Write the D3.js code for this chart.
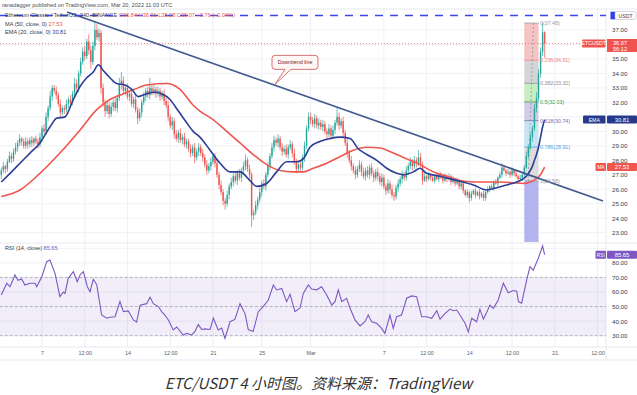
<!DOCTYPE html>
<html><head><meta charset="utf-8">
<script src="https://cdn.jsdelivr.net/npm/d3@7"></script>
<style>
html,body{margin:0;padding:0;background:#fff;}
svg{display:block;}
text{font-family:"Liberation Sans",Arial,sans-serif;}
</style></head><body>
<svg id="c" width="637" height="395"></svg>
<script>
// ---------------- DATA ----------------
const startTime = Date.UTC(2022,1,3,16);   // first 4h candle
const firstOpen = 27.0;
const closes = [
27.3,27.6,27.4,27.9,28.3,28.1,28.6,
28.9,29.2,29.5,29.3,29.0,29.3,29.1,29.4,29.2,29.5,29.3,29.1,
29.6,30.2,30.0,31.0,31.6,32.4,33.0,32.8,
32.5,31.9,31.3,31.6,31.5,
31.9,32.2,32.0,32.6,33.3,33.0,34.0,34.8,35.5,35.2,36.2,35.6,34.8,35.9,37.0,36.5,36.8,
33.0,32.0,31.4,31.8,31.2,
31.7,32.0,31.6,32.3,33.2,33.5,
32.8,33.0,32.4,32.6,31.9,32.2,31.5,30.9,31.3,
32.0,32.4,32.8,32.5,33.0,32.7,32.9,32.6,32.8,32.4,32.6,32.1,
31.8,31.0,30.4,30.7,29.8,29.5,29.9,
29.4,29.6,29.1,29.3,28.8,28.5,28.9,28.2,28.6,28.9,28.5,
28.2,27.7,27.3,27.6,27.9,28.3,27.8,
27.0,26.3,25.8,25.2,25.0,25.6,26.2,
26.5,26.9,26.6,27.1,26.8,27.3,27.6,28.0,27.4,27.0,
24.2,24.4,24.9,25.3,
25.8,26.4,26.2,27.0,27.6,28.3,28.9,29.4,
29.2,29.5,28.9,28.6,28.8,28.4,28.9,29.1,28.5,27.9,
27.4,27.7,27.5,28.2,29.0,30.2,31.0,
30.8,30.5,30.9,30.4,30.6,30.3,30.5,30.0,29.8,30.2,29.7,
30.1,30.6,31.0,30.4,30.7,29.9,29.2,28.5,28.0,27.6,
27.3,27.0,27.4,27.7,27.2,26.9,27.3,27.0,27.5,27.1,26.8,27.2,26.9,26.5,26.8,26.2,25.9,26.4,26.0,25.6,25.5,26.1,26.4,
26.7,27.0,26.8,27.3,27.6,27.9,27.6,28.0,27.8,28.2,27.7,26.6,
26.9,26.7,27.0,26.8,26.6,26.9,26.7,27.0,26.8,26.6,26.9,26.7,26.9,26.5,26.7,26.4,26.6,26.2,26.4,
25.9,25.6,25.8,25.4,25.7,25.9,25.6,25.8,25.5,25.7,25.4,25.8,
26.0,26.2,26.1,26.5,26.4,26.8,27.0,27.5,27.3,
27.1,27.2,27.0,27.3,27.1,26.9,26.7,26.8,27.0,
27.5,28.3,28.9,29.6,30.2,31.6,32.3,34.0,35.5,36.84,36.07
];
const wickUp = [
0.2,0.3,0.1,0.2,0.3,0.2,0.2,0.3,0.2,0.3,0.1,0.2,0.3,0.2,0.2,0.3,0.1,0.2,0.2,0.3,
0.2,0.3,0.3,0.2,0.4,0.2,0.2,0.3,0.2,0.3,0.2,0.2,0.3,0.2,0.3,0.2,0.4,0.3,0.2,0.3,
0.3,0.4,0.2,0.5,0.3,0.3,0.6,0.4,0.3,0.2,0.3,0.2,0.3,0.2,0.3,0.2,0.3,0.2,0.5,0.6,
0.3,0.2,0.3,0.2,0.3,0.2,0.3,0.2,0.3,0.2,0.3,0.2,0.3,0.7,0.2,0.3,0.2,0.3,0.2,0.2,
0.3,0.2,0.3,0.2,0.3,0.2,0.3,0.2,0.3,0.2,0.3,0.2,0.2,0.3,0.2,0.3,0.2,0.3,0.2,0.3,
0.2,0.3,0.2,0.3,0.2,0.2,0.3,0.2,0.3,0.2,0.2,0.3,0.2,0.3,0.2,0.3,0.2,0.3,0.2,0.3,
0.4,0.2,0.3,0.2,0.2,0.3,0.2,0.3,0.2,0.3,0.2,0.3,0.2,0.3,0.3,0.2,0.3,0.2,0.3,0.2,
0.3,0.2,0.3,0.2,0.3,0.2,0.2,0.3,0.2,0.3,0.2,0.3,0.3,0.2,0.3,0.2,0.3,0.2,0.3,0.2,
0.2,0.3,0.2,0.3,0.2,0.6,0.3,0.2,0.3,0.2,0.3,0.2,0.3,0.2,0.3,0.2,0.3,0.2,0.3,0.2,
0.3,0.2,0.3,0.2,0.2,0.3,0.2,0.3,0.2,0.2,0.3,0.2,0.3,0.2,0.2,0.3,0.2,0.3,0.2,0.3,
0.2,0.3,0.2,0.3,0.2,0.5,0.3,0.2,0.2,0.1,0.2,0.1,0.2,0.1,0.2,0.1,0.2,0.1,0.2,0.1,
0.2,0.1,0.2,0.1,0.2,0.1,0.2,0.2,0.1,0.2,0.1,0.2,0.1,0.2,0.1,0.2,0.1,0.2,0.1,0.2,
0.1,0.2,0.1,0.2,0.1,0.2,0.3,0.2,0.1,0.2,0.1,0.2,0.1,0.2,0.1,0.2,0.1,0.2,0.3,0.2,
0.3,0.2,0.3,0.4,0.3,0.3,0.64,0.07
];
const wickDn = [
0.3,0.2,0.3,0.2,0.1,0.3,0.2,0.2,0.3,0.2,0.3,0.2,0.2,0.3,0.2,0.3,0.2,0.2,0.3,0.2,
0.3,0.2,0.2,0.3,0.2,0.3,0.2,0.3,0.2,0.4,0.2,0.3,0.2,0.3,0.2,0.2,0.3,0.2,0.3,0.2,
0.2,0.3,0.2,0.3,0.5,0.2,0.3,0.2,0.3,0.4,0.3,0.4,0.2,0.3,0.2,0.3,0.2,0.3,0.2,0.3,
0.2,0.3,0.2,0.3,0.2,0.3,0.2,0.4,0.2,0.3,0.2,0.3,0.2,0.3,0.2,0.2,0.3,0.2,0.3,0.2,
0.3,0.2,0.3,0.2,0.3,0.3,0.2,0.3,0.2,0.3,0.2,0.3,0.2,0.3,0.2,0.4,0.2,0.3,0.2,0.3,
0.2,0.3,0.2,0.3,0.2,0.3,0.2,0.3,0.2,0.3,0.4,0.2,0.3,0.2,0.3,0.2,0.3,0.2,0.3,0.2,
0.3,0.2,0.3,0.8,0.3,0.2,0.3,0.2,0.3,0.2,0.3,0.2,0.3,0.2,0.3,0.2,0.3,0.2,0.3,0.2,
0.2,0.3,0.2,0.3,0.2,0.3,0.2,0.3,0.2,0.3,0.2,0.2,0.3,0.2,0.3,0.2,0.3,0.2,0.3,0.2,
0.3,0.2,0.3,0.2,0.3,0.2,0.3,0.2,0.3,0.2,0.3,0.2,0.3,0.2,0.3,0.2,0.2,0.3,0.2,0.3,
0.2,0.3,0.2,0.3,0.2,0.3,0.2,0.3,0.2,0.3,0.2,0.3,0.2,0.3,0.2,0.3,0.2,0.3,0.2,0.2,
0.3,0.2,0.3,0.2,0.3,0.2,0.2,0.3,0.1,0.2,0.1,0.2,0.1,0.2,0.1,0.2,0.1,0.2,0.1,0.2,
0.1,0.2,0.1,0.2,0.1,0.2,0.2,0.2,0.1,0.2,0.3,0.2,0.1,0.2,0.1,0.2,0.1,0.2,0.2,0.1,
0.2,0.1,0.2,0.1,0.2,0.1,0.2,0.1,0.2,0.1,0.2,0.1,0.2,0.1,0.2,0.1,0.22,0.2,0.1,0.2,
0.2,0.3,0.2,0.3,0.2,0.3,0.3,0.99
];
// EMA 20 (sampled at candle index)
const emaIdx = [0,4.3,9.2,14.1,19,23.9,27.2,31.3,35.4,38.7,42,45.2,47.7,50.1,53.4,56.7,60.8,64.1,67.3,71.4,75.5,78.8,82.9,87,91.1,94.3,97.6,102.6,107.5,112.4,117.3,122.2,125.5,130.4,135.3,140.2,145.2,148.4,151.7,156.6,161.5,166.4,171.4,175.4,179.6,184.5,189.4,194.3,197.5,202.5,205.7,209,215.6,223.8,232,238.5,243.4,248.4,253.3,258,260,261,262,263,264,265,266,267];
const emaVal = [26.5,27.1,27.8,28.5,29.2,30.3,30.9,31.0,32.2,33.1,33.7,34.1,34.6,34.2,33.7,33.3,33.2,32.9,32.4,32.6,32.7,32.6,32.2,31.4,30.6,30.0,29.6,28.7,27.8,27.2,27.2,26.6,26.2,26.4,27.2,27.9,27.9,28.1,28.9,29.3,29.5,29.6,29.5,28.8,28.4,28.0,27.45,27.1,27.0,27.2,27.45,27.1,26.9,26.6,26.3,25.95,26.1,26.3,26.5,26.9,27.3,27.6,28.0,28.4,28.9,29.6,30.3,30.81];
// MA 50
const maIdx = [0,9.2,19,28.8,38.7,46.9,53.4,60,65.4,71.4,81.3,87.8,94.3,97.6,104.2,110.8,117.3,123.8,130.4,137,143.5,148.4,153.3,159.9,166.4,173,179.6,186.1,192.6,199.2,205.7,212.3,218.9,225.4,232,238.5,245,251.6,256.5,261.4,264.7,267];
const maVal = [25.5,25.95,27.1,28.5,30.1,31.5,32.2,32.6,32.9,33.2,33.3,32.9,31.8,31.4,30.8,30.0,29.2,28.4,27.7,27.3,27.2,27.2,27.45,27.8,28.25,28.7,28.9,28.85,28.5,28.1,27.7,27.2,26.9,26.6,26.5,26.5,26.5,26.45,26.4,26.6,26.95,27.53];
// RSI 14
const rsiIdx = [0,2.7,4.3,6.7,8.2,10,11.6,14.1,16.6,17.4,19.9,22.3,23.9,26.4,28.8,30.5,31.3,32.9,35.4,37.3,38.7,40.3,42.3,43.6,45.2,46.9,49.3,51.8,53.4,55.9,58.3,60,62.4,64.9,66.5,68.2,71.4,73.1,74.7,77.2,78.8,80.4,82.1,84.5,86.2,89.4,91.1,93.6,95.2,96.8,98.5,100.1,102.6,104.2,106.6,108.3,109.9,112.4,114.8,117.3,119.8,121.4,123.8,126.3,128.7,131.2,133.7,135.3,137.8,140.2,141.9,144.3,146.8,148.4,150.9,152.5,155,157.4,159.9,162.4,164,165.6,167.3,169.7,171.4,173.8,176.3,178.7,180.3,182,184.5,186.9,188.5,191,192.6,194.3,196.7,199.2,201.7,204.1,206.6,209,211.5,214,215.6,218,220.5,222.1,223.8,225.4,227.9,229.5,231.2,233.6,235.2,236.9,238.5,240.1,241.8,244.2,246.7,249.1,251.6,253.3,254.1,255.7,258.2,259.8,261.4,263.9,266,267];
const rsiVal = [58,66,63.6,71.7,68,69,64.8,66,66,63.6,70.5,80.8,82,72.8,56.8,60,59,69.4,74,67,71.7,74,63.6,60.2,68.7,65,44.2,42,42.7,43,53.4,46.5,47,40.8,39.4,51,52,56.4,52,50,46.5,44.2,40.8,34,36,30.5,31.6,30.5,33,37.6,34.3,34.7,34.3,42,34,35.2,28.2,39.6,41.2,52,45,34,33,46.5,50,54.5,64.8,61.4,62.4,53.4,58.4,46.5,49,59,64.8,62,61.5,63.6,58,51,53.4,61.4,53.4,55.7,48.8,40.8,36.7,39.6,44.2,39.6,38.5,35,31.6,44.2,35,43,44.2,55.7,57.3,56.8,43,43,41.9,47.2,41.4,45.2,48.3,47.1,47.6,44.2,38.5,32.7,42,39.6,48.3,41.4,46,51,48.8,54.5,66,59.5,61,60.5,53.4,52.3,68.3,77.4,75,83.2,91.6,85.65];
// Annotations
const trendIdx = [32.3, 295.7];        // downtrend line (candle index)
const trendPrice = [38.24, 25.19];
const alertLevel = 38.0;               // blue dashed line
const lastPrice = 36.07;
const maLast = 27.53, emaLast = 30.81, rsiLast = 85.65;
const fibIdx = [257, 264];
const fibRatios = ["0","0.236","0.382","0.5","0.618","0.786","1"];
const fibPrices = [37.48,34.91,33.32,32.03,30.74,28.91,26.58];
const calloutIdx = 134.5;
const priceTicks = [23,24,25,26,27,28,29,30,31,32,33,34,35,36,37];
const rsiTicks = [30,40,50,60,70,80,90];
const tickDates = ["2022-02-07T00:00Z","2022-02-10T12:00Z","2022-02-14T00:00Z","2022-02-17T12:00Z","2022-02-21T00:00Z","2022-02-25T00:00Z","2022-03-01T00:00Z","2022-03-07T00:00Z","2022-03-10T12:00Z","2022-03-14T00:00Z","2022-03-17T12:00Z","2022-03-21T00:00Z","2022-03-24T12:00Z"];
const tickLabels = ["7","12:00","14","12:00","21","25","Mar","7","12:00","14","12:00","21","12:00"];

// ---------------- CHART ----------------
const H4 = 4*3600*1000;
const tOf = i => new Date(startTime + i*H4);
const svg = d3.select("#c");
const PR = 606, PT = 9, PB = 243, RT = 243, RB = 347;
const x = d3.scaleUtc().domain([new Date(Date.UTC(2022,1,7)), new Date(Date.UTC(2022,2,21))]).range([42,554.8]);
const y = d3.scaleLinear().domain([23,37]).range([232.7,30]);
const yR = d3.scaleLinear().domain([30,90]).range([335.7,248.3]);
const xi = i => x(tOf(i));

const candles = closes.map((c,i)=>{const o = i===0?firstOpen:closes[i-1];
  return {i,o,c,h:Math.max(o,c)+wickUp[i],l:Math.min(o,c)-wickDn[i]};});

const defs = svg.append("defs");
defs.append("clipPath").attr("id","cp").append("rect").attr("x",0).attr("y",PT).attr("width",PR).attr("height",PB-PT);
defs.append("clipPath").attr("id","cr").append("rect").attr("x",0).attr("y",RT).attr("width",PR).attr("height",RB-RT);

const grid = "#eff1f6";
const tds = tickDates.map(d=>new Date(d));
svg.append("g").selectAll("line").data(tds).join("line")
  .attr("x1",d=>x(d)).attr("x2",d=>x(d)).attr("y1",PT).attr("y2",RB).attr("stroke",grid).attr("stroke-width",1);
svg.append("g").selectAll("line").data(priceTicks).join("line")
  .attr("x1",0).attr("x2",PR).attr("y1",d=>y(d)).attr("y2",d=>y(d)).attr("stroke",grid);
svg.append("g").selectAll("line").data(rsiTicks).join("line")
  .attr("x1",0).attr("x2",PR).attr("y1",d=>yR(d)).attr("y2",d=>yR(d)).attr("stroke",grid);

const bc = "#e0e3eb";
[[0,PT,637,PT],[0,PB,637,PB],[0,RB,637,RB],[0,360,637,360],[PR,PT,PR,360]].forEach(a=>
  svg.append("line").attr("x1",a[0]).attr("y1",a[1]).attr("x2",a[2]).attr("y2",a[3]).attr("stroke",bc).attr("stroke-width",0.8));

const P = svg.append("g").attr("clip-path","url(#cp)");

// fib
const fx0 = xi(fibIdx[0]), fx1 = xi(fibIdx[1]);
const fibFills = ["#f4c3c3","#d5d5d8","#c7edc2","#d3cce8","#c6e4f3","#dddde0"];
const fibLine = ["#9a9ca5","#ef7f7f","#8d9098","#43a047","#7e6bb0","#4aa3df","#9a9ca5"];
fibFills.forEach((f,k)=>{
  P.append("rect").attr("x",fx0).attr("width",fx1-fx0).attr("y",y(fibPrices[k])).attr("height",y(fibPrices[k+1])-y(fibPrices[k])).attr("fill",f);
});
P.append("rect").attr("x",fx0).attr("width",fx1-fx0).attr("y",y(fibPrices[6])).attr("height",PB-y(fibPrices[6])-1).attr("fill","#b3b3ee");
fibPrices.forEach((p,k)=>{
  P.append("line").attr("x1",fx0).attr("x2",fx1).attr("y1",y(p)).attr("y2",y(p)).attr("stroke",fibLine[k]).attr("stroke-width",0.8);
});
P.append("line").attr("x1",fx0+4).attr("y1",y(fibPrices[6])).attr("x2",fx1-5).attr("y2",y(fibPrices[0]))
  .attr("stroke","#8a8d96").attr("stroke-dasharray","2,2").attr("stroke-width",0.7);

// candles
const up="#26a69a", dn="#ef5350";
const cg = P.append("g");
cg.selectAll("line").data(candles).join("line")
  .attr("x1",d=>xi(d.i)).attr("x2",d=>xi(d.i)).attr("y1",d=>y(d.h)).attr("y2",d=>y(d.l))
  .attr("stroke",d=>d.c>=d.o?up:dn).attr("stroke-width",0.7);
cg.selectAll("rect").data(candles).join("rect")
  .attr("x",d=>xi(d.i)-0.7).attr("width",1.4)
  .attr("y",d=>y(Math.max(d.o,d.c))).attr("height",d=>Math.max(0.8,Math.abs(y(d.o)-y(d.c))))
  .attr("fill",d=>d.c>=d.o?up:dn);

// MA / EMA
const ln = d3.line().curve(d3.curveMonotoneX);
P.append("path").attr("d",ln(maIdx.map((i,k)=>[xi(i),y(maVal[k])]))).attr("fill","none").attr("stroke","#f0564e").attr("stroke-width",1.6);
P.append("path").attr("d",ln(emaIdx.map((i,k)=>[xi(i),y(emaVal[k])]))).attr("fill","none").attr("stroke","#2b3d96").attr("stroke-width",1.6);

// downtrend line
P.append("line").attr("x1",xi(trendIdx[0])).attr("y1",y(trendPrice[0])).attr("x2",xi(trendIdx[1])).attr("y2",y(trendPrice[1]))
  .attr("stroke","#415b8f").attr("stroke-width",1.7);

// alert dashed line & last price line
P.append("line").attr("x1",0).attr("x2",PR).attr("y1",y(alertLevel)).attr("y2",y(alertLevel))
  .attr("stroke","#3b45ee").attr("stroke-width",1.6).attr("stroke-dasharray","8,7");
P.append("line").attr("x1",0).attr("x2",PR).attr("y1",y(lastPrice)).attr("y2",y(lastPrice))
  .attr("stroke","#ef5350").attr("stroke-width",0.7).attr("stroke-dasharray","1,2");

// fib labels
fibPrices.forEach((p,k)=>{
  P.append("text").attr("x",fx1+1.5).attr("y",y(p)+2).attr("font-size",5.3).attr("fill",fibLine[k])
   .text(fibRatios[k]+"("+p.toFixed(2)+")");
});

// callout
{
  const frac = (calloutIdx-trendIdx[0])/(trendIdx[1]-trendIdx[0]);
  const tp = trendPrice[0]+(trendPrice[1]-trendPrice[0])*frac;
  const tx = xi(calloutIdx), ty = y(tp)-1;
  const L=tx-3, T=ty-29, W=46, Hh=14, r=3, B=T+Hh, R=L+W;
  const d = `M${L+r},${T}H${R-r}Q${R},${T} ${R},${T+r}V${B-r}Q${R},${B} ${R-r},${B}H${L+19}L${tx},${ty}L${L+13},${B}H${L+r}Q${L},${B} ${L},${B-r}V${T+r}Q${L},${T} ${L+r},${T}Z`;
  P.append("path").attr("d",d).attr("fill","#fff6f6").attr("stroke","#c9524e").attr("stroke-width",0.8);
  P.append("text").attr("x",L+W/2).attr("y",T+9).attr("text-anchor","middle").attr("font-size",5.2).attr("fill","#7a2222").text("Downtrend line");
}

// RSI pane
const R = svg.append("g").attr("clip-path","url(#cr)");
R.append("rect").attr("x",0).attr("width",PR).attr("y",yR(70)).attr("height",yR(30)-yR(70)).attr("fill","#7e57c2").attr("opacity",0.1);
[70,50,30].forEach(v=>R.append("line").attr("x1",0).attr("x2",PR).attr("y1",yR(v)).attr("y2",yR(v))
  .attr("stroke","#9598a1").attr("stroke-width",0.7).attr("stroke-dasharray","2.5,2.5"));
R.append("path").attr("d",d3.line()(rsiIdx.map((i,k)=>[xi(i),yR(rsiVal[k])]))).attr("fill","none").attr("stroke","#7e57c2").attr("stroke-width",1.1);

// axes (labels hidden by the value tags are not drawn)
const tagPrices = [lastPrice, emaLast, maLast];
const shownPriceTicks = priceTicks.filter(v=>tagPrices.every(p=>Math.abs(y(v)-y(p))>6.5));
const shownRsiTicks = rsiTicks.filter(v=>Math.abs(yR(v)-yR(rsiLast))>6.5);
const ax = svg.append("g").attr("transform",`translate(${PR},0)`)
  .call(d3.axisRight(y).tickValues(shownPriceTicks).tickFormat(d3.format(".2f")).tickSize(0).tickPadding(6));
const axr = svg.append("g").attr("transform",`translate(${PR},0)`)
  .call(d3.axisRight(yR).tickValues(shownRsiTicks).tickFormat(d3.format(".2f")).tickSize(0).tickPadding(6));
const axb = svg.append("g").attr("transform",`translate(0,351)`)
  .call(d3.axisBottom(x).tickValues(tds).tickFormat((d,i)=>tickLabels[i]).tickSize(0).tickPadding(0));
[ax,axr,axb].forEach(a=>{a.select(".domain").remove();
  a.selectAll("text").attr("font-size",a===axb?5.4:6.2).attr("fill",a===axb?"#5a5d66":"#3a3d46").attr("font-family","Liberation Sans, Arial, sans-serif");});

// tags
function tag(x0,w,yc,h,fill,lines,fs){
  svg.append("rect").attr("x",x0).attr("y",yc-h/2).attr("width",w).attr("height",h).attr("fill",fill).attr("rx",1);
  lines.forEach((t,k)=>svg.append("text").attr("x",x0+w/2).attr("y",yc+2)
    .attr("text-anchor","middle").attr("font-size",fs||5.2).attr("fill","#fff").text(t));
}
tag(582,23.5,y(lastPrice),8,"#ef5350",["ETCUSDT"]);
svg.append("rect").attr("x",607).attr("y",y(lastPrice)-4.5).attr("width",30).attr("height",13).attr("fill","#ef5350");
svg.append("text").attr("x",620).attr("y",y(lastPrice)+2).attr("text-anchor","middle").attr("font-size",5.6).attr("fill","#fff").text(lastPrice.toFixed(2));
svg.append("text").attr("x",620).attr("y",y(lastPrice)+7.4).attr("text-anchor","middle").attr("font-size",5.6).attr("fill","#fff").text("56:12");
tag(583,22.5,y(emaLast),8,"#263a8c",["EMA"]);
tag(607,30,y(emaLast),8,"#263a8c",[emaLast.toFixed(2)],5.8);
tag(595.5,10.5,y(maLast),8,"#f0564e",["MA"],4.8);
tag(607,30,y(maLast),8,"#f0564e",[maLast.toFixed(2)],5.8);
tag(595.5,10.5,yR(rsiLast),8,"#7e57c2",["RSI"],4.8);
tag(607,30,yR(rsiLast),8,"#7e57c2",[rsiLast.toFixed(2)],5.8);
// USDT label
svg.append("rect").attr("x",610.5).attr("y",y(alertLevel)-3.8).attr("width",5).attr("height",7.6).attr("fill","#2f3bf0");
svg.append("rect").attr("x",615).attr("y",y(alertLevel)-4).attr("width",21).attr("height",8).attr("fill","#fff").attr("stroke","#b6b9c3").attr("stroke-width",0.6).attr("rx",1.5);
svg.append("text").attr("x",625.5).attr("y",y(alertLevel)+2).attr("text-anchor","middle").attr("font-size",5.2).attr("fill","#3a3d46").text("USDT");

// legend texts
const fsz = 5.6;
svg.append("text").attr("x",2).attr("y",6.5).attr("font-size",5.6).attr("fill","#4a4d56").text("ranadagger published on TradingView.com, Mar 20, 2022 11:03 UTC");
const t1 = svg.append("text").attr("x",5).attr("y",17).attr("font-size",fsz).attr("fill","#3a3d46");
t1.append("tspan").text("Ethereum Classic / TetherUS, 240, BINANCE  ");
t1.append("tspan").attr("fill","#ef5350").text("O36.84  H36.91  L35.08  C36.07  −0.76 (−2.04%)");
const t2 = svg.append("text").attr("x",5).attr("y",26).attr("font-size",fsz).attr("fill","#3a3d46");
t2.append("tspan").text("MA (50, close, 0)  "); t2.append("tspan").attr("fill","#f0564e").text(maLast.toFixed(2));
const t3 = svg.append("text").attr("x",5).attr("y",34).attr("font-size",fsz).attr("fill","#3a3d46");
t3.append("tspan").text("EMA (20, close, 0)  "); t3.append("tspan").attr("fill","#2b3d96").text(emaLast.toFixed(2));
const t4 = svg.append("text").attr("x",5).attr("y",249.5).attr("font-size",fsz).attr("fill","#3a3d46");
t4.append("tspan").text("RSI (14, close)  "); t4.append("tspan").attr("fill","#7e57c2").text(rsiLast.toFixed(2));

// caption
svg.append("text").attr("x",318.5).attr("y",389).attr("text-anchor","middle").attr("font-size",15)
  .attr("font-style","italic").attr("fill","#333").style("font-family","'Noto Sans CJK SC', sans-serif")
  .text("ETC/USDT 4 小时图。资料来源：TradingView");
</script>
</body></html>
